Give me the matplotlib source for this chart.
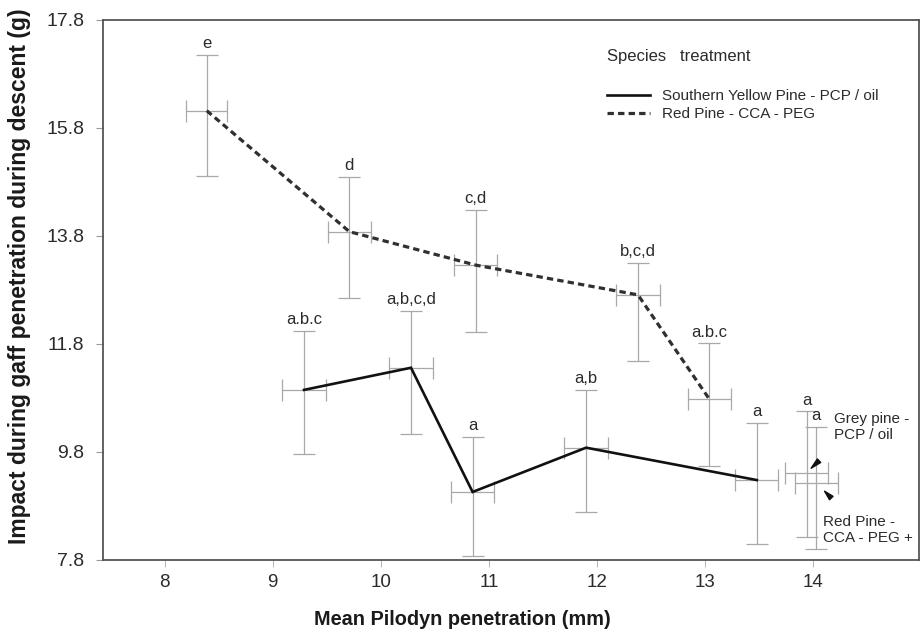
import matplotlib
matplotlib.use("Agg")
import matplotlib.pyplot as plt

plt.rcParams["font.family"] = ["Liberation Sans", "DejaVu Sans"]

# Southern Yellow Pine - PCP / oil
syp_x = [9.29, 10.28, 10.85, 11.90, 13.48]
syp_y = [10.95, 11.36, 9.06, 9.88, 9.28]
syp_lo = [9.76, 10.13, 7.87, 8.68, 8.10]
syp_hi = [12.04, 12.42, 10.08, 10.94, 10.34]
syp_xerr = [0.20, 0.20, 0.20, 0.20, 0.20]
syp_groups = ["a.b.c", "a,b,c,d", "a", "a,b", "a"]

# Red Pine - CCA - PEG
rp_x = [8.39, 9.71, 10.88, 12.38, 13.04]
rp_y = [16.12, 13.88, 13.26, 12.71, 10.78]
rp_lo = [14.91, 12.66, 12.03, 11.49, 9.54]
rp_hi = [17.16, 14.90, 14.28, 13.30, 11.81]
rp_xerr = [0.19, 0.20, 0.20, 0.20, 0.20]
rp_groups = ["e", "d", "c,d", "b,c,d", "a.b.c"]

# Single-treatment comparisons
extra_names = ["Grey pine -\nPCP / oil", "Red Pine -\nCCA - PEG +"]
extra_x = [13.94, 14.03]
extra_y = [9.42, 9.23]
extra_lo = [8.23, 8.00]
extra_hi = [10.55, 10.27]
extra_xerr = [0.20, 0.20]
extra_groups = ["a", "a"]

x_ticks = [8, 9, 10, 11, 12, 13, 14]
y_ticks = [7.8, 9.8, 11.8, 13.8, 15.8, 17.8]

text_col = "#2b2b2b"
err_col = "#a8a8a8"

fig = plt.figure(figsize=(9.22, 6.36), dpi=100)
ax = fig.add_axes([0.1117, 0.1195, 0.8850, 0.8491])


def draw_errors(xs, ys, lo, hi, xerr):
    yerr = [[y - l for y, l in zip(ys, lo)], [h - y for y, h in zip(ys, hi)]]
    ax.errorbar(xs, ys, yerr=yerr, xerr=xerr, fmt="none", ecolor=err_col,
                elinewidth=0.9, capsize=8, capthick=0.9, zorder=2)


def draw_groups(xs, hi, groups):
    for x, h, g in zip(xs, hi, groups):
        ax.annotate(g, xy=(x, h), xytext=(0, 5), textcoords="offset points",
                    ha="center", va="baseline", fontsize=12, color=text_col)


draw_errors(syp_x, syp_y, syp_lo, syp_hi, syp_xerr)
draw_errors(rp_x, rp_y, rp_lo, rp_hi, rp_xerr)
draw_errors(extra_x, extra_y, extra_lo, extra_hi, extra_xerr)

line_syp, = ax.plot(syp_x, syp_y, color="#111111", lw=1.9, zorder=3,
                    solid_joinstyle="miter")
line_rp, = ax.plot(rp_x, rp_y, color="#303030", lw=2.3, zorder=3,
                   linestyle=(0, (2.0, 1.3)))

draw_groups(syp_x, syp_hi, syp_groups)
draw_groups(rp_x, rp_hi, rp_groups)
draw_groups(extra_x, extra_hi, extra_groups)

# pointer wedges for the two single-treatment means
ax.annotate("", xy=(extra_x[0], extra_y[0]), xytext=(9, 8.5),
            textcoords="offset points",
            arrowprops=dict(arrowstyle="wedge,tail_width=0.35", color="#111111",
                            shrinkA=0, shrinkB=4.5))
ax.annotate("", xy=(extra_x[1], extra_y[1]), xytext=(10.8, -11),
            textcoords="offset points",
            arrowprops=dict(arrowstyle="wedge,tail_width=0.35", color="#111111",
                            shrinkA=0, shrinkB=8.5))
ax.annotate(extra_names[0], xy=(extra_x[0], extra_y[0]), xytext=(20, 33),
            textcoords="offset points", ha="left", va="center",
            fontsize=11, color=text_col, linespacing=1.15)
ax.annotate(extra_names[1], xy=(extra_x[1], extra_y[1]), xytext=(5, -34),
            textcoords="offset points", ha="left", va="center",
            fontsize=11, color=text_col, linespacing=1.15)

ax.set_xlim(7.43, 14.98)
ax.set_ylim(7.8, 17.8)
ax.set_xticks(x_ticks)
ax.set_yticks(y_ticks)
ax.set_xticklabels([str(t) for t in x_ticks], fontsize=13.5, color=text_col)
ax.set_yticklabels([f"{t:.1f}" for t in y_ticks], fontsize=14, color=text_col)
ax.tick_params(axis="x", direction="out", length=5, width=0.8, color="#bbbbbb", pad=5)
ax.tick_params(axis="y", direction="out", length=5, width=0.8, color="#999999", pad=8.5)

for s in ax.spines.values():
    s.set_color("#555555")
    s.set_linewidth(1.3)

ax.set_xlabel("Mean Pilodyn penetration (mm)", fontsize=14.3, fontweight="bold",
              color="#1a1a1a")
ax.xaxis.set_label_coords(0.44, -0.093)
ax.set_ylabel("Impact during gaff penetration during descent (g)", fontsize=16.5,
              fontweight="bold", color="#1a1a1a")
ax.yaxis.set_label_coords(-0.088, 0.525)

ax.text(0.6176, 0.9315, "Species   treatment", transform=ax.transAxes,
        fontsize=12, color=text_col, ha="left", va="center")
ax.legend([line_syp, line_rp],
          ["Southern Yellow Pine - PCP / oil", "Red Pine - CCA - PEG"],
          loc="upper left", bbox_to_anchor=(0.6176, 0.872), frameon=False,
          borderpad=0, borderaxespad=0, handlelength=2.8, handletextpad=0.8,
          labelspacing=0.25, fontsize=11, labelcolor=text_col)

fig.savefig("out.png", dpi=100, facecolor="white")
